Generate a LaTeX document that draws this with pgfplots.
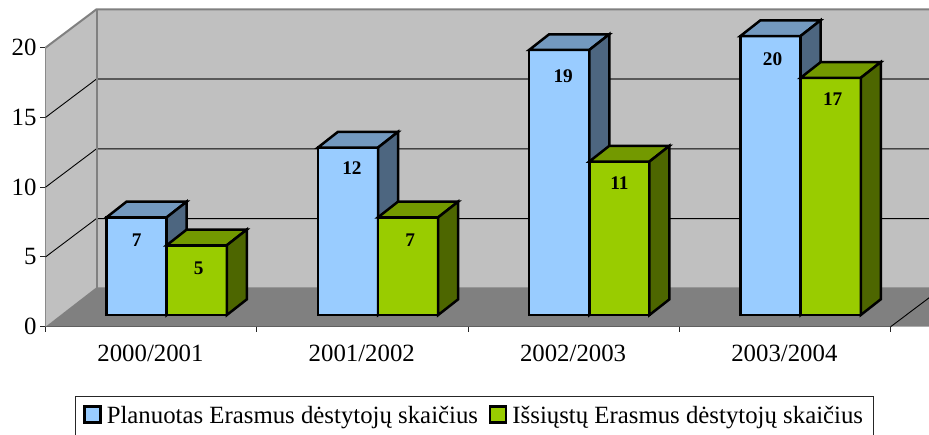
\documentclass[border=0pt]{standalone}
\usepackage{pgfplots}
\usepackage{pgfplotstable}
\usepackage{fontspec}
\setmainfont{Liberation Serif}
\pgfplotsset{compat=1.18}
\definecolor{blueF}{HTML}{99CCFF}
\definecolor{blueT}{HTML}{7399BF}
\definecolor{blueS}{HTML}{4D6680}
\definecolor{greenF}{HTML}{99CC00}
\definecolor{greenT}{HTML}{739900}
\definecolor{greenS}{HTML}{4D6600}
\definecolor{wallc}{HTML}{C0C0C0}
\definecolor{floorc}{HTML}{808080}
% x, value, and the small label offsets (pt) seen in the reference
\pgfplotstableread{
x v dx dy
0 7 0 -1
1 12 4 1
2 19 4 -4
3 20 2 -1
}\planned
\pgfplotstableread{
x v dx dy
0 5 2 -1
1 7 2 -1
2 11 0 0
3 17 2 1
}\sent
\pgfdeclareplotmark{nothing}{}
\pgfplotsset{
  box faces/.style n args={4}{
    forget plot, only marks, scatter, mark=nothing, point meta=y,
    visualization depends on={13.95*rawy \as \barh},
    visualization depends on={rawy \as \barv},
    visualization depends on={\thisrow{dx} \as \ldx},
    visualization depends on={\thisrow{dy} \as \ldy},
    scatter/@pre marker code/.code={
      \draw[line width=2.5pt,line join=miter,fill=#4] (#1-60.15pt,11.7pt-\barh pt) rectangle (#1,11.7pt);
      \draw[line width=2.5pt,line join=miter,fill=#2] (#1-60.15pt,11.7pt) -- (#1-40.15pt,27.4pt) -- (#1+20pt,27.4pt) -- (#1,11.7pt) -- cycle;
      \draw[line width=2.5pt,line join=miter,fill=#3] (#1,11.7pt) -- (#1+20pt,27.4pt) -- (#1+20pt,27.4pt-\barh pt) -- (#1,11.7pt-\barh pt) -- cycle;
      \pgfmathtruncatemacro\barlab{\barv}
      \node[font=\fontsize{19.3}{22}\selectfont\bfseries, text=black] at (#1-30.07pt+\ldx pt,-10.3pt+\ldy pt) {\barlab};
    },
    scatter/@post marker code/.code={},
  },
  front bar/.style n args={2}{
    ybar, bar width=60.15pt, bar shift=#1, yshift=11.7pt, fill=#2, draw=black, line width=2.5pt,
  },
}
\begin{document}
\begin{tikzpicture}[x=1pt,y=1pt]
\clip[use as bounding box] (-45.5,-107.3) rectangle (883.5,326.7);
\begin{axis}[
  at={(0,0)}, anchor=south west,
  scale only axis, width=845.2pt, height=279pt,
  xmin=-0.5, xmax=3.5, ymin=0, ymax=20,
  clip=false,
  axis x line*=bottom, axis y line*=left,
  axis line style={line width=1.4pt, black!85},
  xtick={0,1,2,3},
  xticklabels={2000/2001,2001/2002,2002/2003,2003/2004},
  minor xtick={-0.5,0.5,1.5,2.5,3.5},
  ytick={0,5,10,15,20},
  tick align=outside,
  major x tick style={draw=none},
  major y tick style={black!85,line width=1pt},
  minor tick length=5pt, major tick length=5pt,
  minor x tick style={black!85,line width=1pt},
  tick label style={font=\fontsize{24.8}{28}\selectfont},
  /pgf/number format/assume math mode=true,
  xticklabel style={yshift=-9.5pt,xshift=-0.7pt},
  yticklabel style={xshift=-0.5pt},
  legend columns=2,
  legend cell align=left,
  legend style={
    at={(0.0349,-0.2484)}, anchor=north west,
    draw=black!85, line width=0.8pt, fill=white,
    font=\fontsize{24.8}{28}\selectfont,
    inner xsep=8pt, inner ysep=0pt,
    nodes={text depth=14pt, inner ysep=10pt},
    /tikz/every even column/.append style={column sep=9pt},
    /tikz/every odd column/.append style={column sep=3pt},
  },
  legend image code/.code={
    \draw[#1, line width=2.4pt] (0pt,-12pt) rectangle (16pt,4pt);
  },
]
% walls and floor
\fill[wallc] (axis cs:-0.5,0) -- ++(51pt,38.4pt) -- ++(0pt,279pt) -- ++(-51pt,-38.4pt) -- cycle;
\fill[wallc] (axis cs:-0.5,0) ++(51pt,38.4pt) rectangle ++(900pt,279pt);
\fill[floorc] (axis cs:-0.5,0) -- ++(51pt,39.4pt) -- ++(900pt,0pt) -- ++(-51pt,-39.4pt) -- (axis cs:3.5,0) -- cycle;
\draw[black,line width=0.9pt] (axis cs:3.5,0) -- ++(51pt,38.4pt);
\foreach \v in {5,10}{
  \edef\tmp{\noexpand\draw[black,line width=0.9pt] (axis cs:-0.5,\v) -- ++(51pt,38.4pt) -- ++(900pt,0pt);}\tmp
}
\draw[black,line width=0.9pt] (axis cs:-0.5,15) -- ++(51pt,38.4pt);
\draw[black!65,line width=1.5pt] (axis cs:-0.5,15) ++(51pt,38.4pt) -- ++(900pt,0pt);
\draw[floorc,line width=2pt] (axis cs:-0.5,20) -- ++(51pt,38.4pt) -- ++(900pt,0pt);
\draw[floorc,line width=2pt] (axis cs:-0.5,0) ++(51pt,38.4pt) -- ++(0pt,279pt);
% first series
\addplot[front bar={-14.55pt}{blueF}] table[x=x,y=v] {\planned};
\addlegendentry{Planuotas Erasmus dėstytojų skaičius}
\addplot[box faces={15.55pt}{blueT}{blueS}{blueF}] table[x=x,y=v] {\planned};
% second series
\addplot[front bar={45.6pt}{greenF}] table[x=x,y=v] {\sent};
\addlegendentry{Išsiųstų Erasmus dėstytojų skaičius}
\addplot[box faces={75.7pt}{greenT}{greenS}{greenF}] table[x=x,y=v] {\sent};
\end{axis}
\end{tikzpicture}
\end{document}
